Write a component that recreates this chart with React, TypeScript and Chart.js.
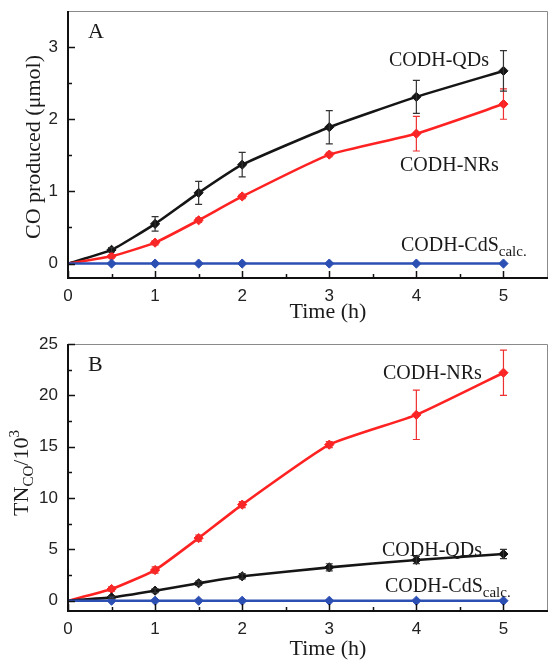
import React, { useEffect, useRef } from "react";
import { Chart, registerables } from "chart.js";

Chart.register(...registerables);

// ---------- data ----------
const times = [0, 0.5, 1, 1.5, 2, 3, 4, 5];

// Panel A: CO produced (µmol)
const coQDs = [0, 0.19, 0.55, 0.98, 1.37, 1.89, 2.31, 2.67];
const coQDsErr = [0, 0.03, 0.1, 0.16, 0.17, 0.23, 0.23, 0.28];
const coNRs = [0, 0.1, 0.29, 0.6, 0.93, 1.51, 1.8, 2.21];
const coNRsErr = [0, 0.02, 0.03, 0.03, 0.03, 0.03, 0.24, 0.21];
const coCdS = [0, 0, 0, 0, 0, 0, 0, 0];

// Panel B: TN_CO / 10^3
const tnNRs = [0, 1.14, 2.99, 6.1, 9.36, 15.2, 18.1, 22.2];
const tnNRsErr = [0, 0.2, 0.3, 0.3, 0.3, 0.3, 2.4, 2.2];
const tnQDs = [0, 0.33, 0.98, 1.7, 2.38, 3.25, 3.97, 4.55];
const tnQDsErr = [0, 0.1, 0.2, 0.2, 0.25, 0.35, 0.35, 0.45];
const tnCdS = [0, 0, 0, 0, 0, 0, 0, 0];

// ticks
const xMajor = [0, 1, 2, 3, 4, 5];
const xMinor = [0.5, 1.5, 2.5, 3.5, 4.5];
const coMajor = [0, 1, 2, 3];
const coMinor = [0.5, 1.5, 2.5];
const tnMajor = [0, 5, 10, 15, 20, 25];
const tnMinor = [2.5, 7.5, 12.5, 17.5, 22.5];

// ---------- styles ----------
const BLACK = "#151515";
const RED = "#ff2222";
const BLUE = "#2c4fb3";
const SERIF = '"Liberation Serif", "Times New Roman", serif';
const SANS = '"Liberation Sans", Arial, sans-serif';

type Part = { text: string; size: number; dy?: number };
type Label = { x: number; y: number; parts: Part[]; align?: "left" | "center" };

function partsWidth(ctx: CanvasRenderingContext2D, parts: Part[]) {
  let w = 0;
  for (const p of parts) {
    ctx.font = `${p.size}px ${SERIF}`;
    w += ctx.measureText(p.text).width;
  }
  return w;
}

function drawParts(ctx: CanvasRenderingContext2D, parts: Part[], x: number, y: number) {
  let cx = x;
  for (const p of parts) {
    ctx.font = `${p.size}px ${SERIF}`;
    ctx.fillText(p.text, cx, y + (p.dy || 0));
    cx += ctx.measureText(p.text).width;
  }
}

function pts(ys: number[]) {
  return times.map((t, i) => ({ x: t, y: ys[i] }));
}

function ds(label: string, ys: number[], errs: number[] | null, color: string, errColor: string) {
  return {
    label,
    data: pts(ys),
    errs,
    errColor,
    borderColor: color,
    backgroundColor: color,
    borderWidth: 2.6,
    pointStyle: "rectRot",
    pointRadius: times.map((t) => (t === 0 ? 0 : 4.6)),
    pointHoverRadius: 0,
    pointBorderWidth: 1,
    tension: 0.15,
  };
}

type Panel = {
  height: number;
  padTop: number;
  xHeight: number;
  yMin: number;
  yMax: number;
  yMajor: number[];
  yMinor: number[];
  datasets: any[];
  labels: Label[];
  yTitle: Part[];
  yTitlePos: [number, number];
  xTitlePos: [number, number];
};

function makeChart(canvas: HTMLCanvasElement, p: Panel) {
  const decor = {
    id: "decor",
    afterDatasetsDraw(chart: any) {
      const ctx = chart.ctx as CanvasRenderingContext2D;
      const xs = chart.scales.x;
      const ys = chart.scales.y;
      // error bars
      chart.data.datasets.forEach((d: any) => {
        if (!d.errs) return;
        ctx.save();
        ctx.strokeStyle = d.errColor;
        ctx.lineWidth = 1.2;
        d.data.forEach((pt: any, i: number) => {
          const e = d.errs[i];
          if (!e) return;
          const px = xs.getPixelForValue(pt.x);
          const y1 = ys.getPixelForValue(pt.y + e);
          const y2 = ys.getPixelForValue(pt.y - e);
          ctx.beginPath();
          ctx.moveTo(px, y1);
          ctx.lineTo(px, y2);
          ctx.moveTo(px - 3.5, y1);
          ctx.lineTo(px + 3.5, y1);
          ctx.moveTo(px - 3.5, y2);
          ctx.lineTo(px + 3.5, y2);
          ctx.stroke();
        });
        ctx.restore();
      });
    },
    afterDraw(chart: any) {
      const ctx = chart.ctx as CanvasRenderingContext2D;
      const { left, right, top, bottom } = chart.chartArea;
      const xs = chart.scales.x;
      const ys = chart.scales.y;
      ctx.save();
      // top / right frame (thin, grey)
      ctx.strokeStyle = "#8a8a8a";
      ctx.lineWidth = 1;
      ctx.beginPath();
      ctx.moveTo(left, top + 0.5);
      ctx.lineTo(right + 0.5, top + 0.5);
      ctx.lineTo(right + 0.5, bottom);
      ctx.stroke();
      // left / bottom axes (thick, black)
      ctx.strokeStyle = "#111";
      ctx.lineWidth = 2;
      ctx.beginPath();
      ctx.moveTo(left, top);
      ctx.lineTo(left, bottom);
      ctx.lineTo(right + 1, bottom);
      ctx.stroke();
      // inward ticks
      ctx.lineWidth = 1.5;
      ctx.beginPath();
      xMajor.forEach((v) => {
        const px = Math.round(xs.getPixelForValue(v)) + 0.5;
        ctx.moveTo(px, bottom);
        ctx.lineTo(px, bottom - 7);
      });
      xMinor.forEach((v) => {
        const px = Math.round(xs.getPixelForValue(v)) + 0.5;
        ctx.moveTo(px, bottom);
        ctx.lineTo(px, bottom - 4);
      });
      p.yMajor.forEach((v) => {
        const py = Math.round(ys.getPixelForValue(v)) + 0.5;
        ctx.moveTo(left, py);
        ctx.lineTo(left + 7, py);
      });
      p.yMinor.forEach((v) => {
        const py = Math.round(ys.getPixelForValue(v)) + 0.5;
        ctx.moveTo(left, py);
        ctx.lineTo(left + 4, py);
      });
      ctx.stroke();

      // texts
      ctx.fillStyle = "#1a1a1a";
      ctx.textBaseline = "alphabetic";
      ctx.textAlign = "left";
      p.labels.forEach((l) => {
        let x = l.x;
        if (l.align === "center") x -= partsWidth(ctx, l.parts) / 2;
        drawParts(ctx, l.parts, x, l.y);
      });
      // x title
      const xt: Part[] = [{ text: "Time (h)", size: 22 }];
      drawParts(ctx, xt, p.xTitlePos[0] - partsWidth(ctx, xt) / 2, p.xTitlePos[1]);
      // y title (rotated)
      ctx.translate(p.yTitlePos[0], p.yTitlePos[1]);
      ctx.rotate(-Math.PI / 2);
      drawParts(ctx, p.yTitle, -partsWidth(ctx, p.yTitle) / 2, 7);
      ctx.restore();
    },
  };

  return new Chart(canvas, {
    type: "line",
    data: { datasets: p.datasets },
    options: {
      responsive: false,
      animation: false,
      events: [],
      layout: { padding: { top: p.padTop, right: 11, left: 0, bottom: 0 } },
      plugins: { legend: { display: false }, tooltip: { enabled: false } },
      scales: {
        x: {
          type: "linear",
          min: 0,
          max: 5.5,
          grid: { display: false, drawTicks: false },
          border: { display: false },
          afterBuildTicks: (s: any) => {
            s.ticks = xMajor.map((v) => ({ value: v }));
          },
          ticks: {
            padding: 8,
            color: "#222",
            font: { family: SANS, size: 17 },
            callback: (v: any) => String(v),
            maxRotation: 0,
            autoSkip: false,
          },
          afterFit: (s: any) => {
            s.height = p.xHeight;
            s.paddingLeft = 0;
            s.paddingRight = 0;
          },
        },
        y: {
          type: "linear",
          min: p.yMin,
          max: p.yMax,
          grid: { display: false, drawTicks: false },
          border: { display: false },
          afterBuildTicks: (s: any) => {
            s.ticks = p.yMajor.map((v) => ({ value: v }));
          },
          ticks: {
            padding: 10,
            color: "#222",
            font: { family: SANS, size: 17 },
            callback: (v: any) => String(v),
            autoSkip: false,
          },
          afterFit: (s: any) => {
            s.width = 68;
            s.paddingTop = 0;
            s.paddingBottom = 0;
          },
        },
      },
    },
    plugins: [decor],
  } as any);
}

const panelA: Panel = {
  height: 336,
  padTop: 11,
  xHeight: 58,
  yMin: -0.2,
  yMax: 3.5,
  yMajor: coMajor,
  yMinor: coMinor,
  datasets: [
    ds("CODH-CdS calc.", coCdS, null, BLUE, BLUE),
    ds("CODH-NRs", coNRs, coNRsErr, RED, "#ee3030"),
    ds("CODH-QDs", coQDs, coQDsErr, BLACK, "#333"),
  ],
  labels: [
    { x: 88, y: 38, parts: [{ text: "A", size: 22 }] },
    { x: 389, y: 66, parts: [{ text: "CODH-QDs", size: 20 }] },
    { x: 400, y: 171, parts: [{ text: "CODH-NRs", size: 20 }] },
    {
      x: 401,
      y: 251,
      parts: [
        { text: "CODH-CdS", size: 20 },
        { text: "calc.", size: 15, dy: 5 },
      ],
    },
  ],
  yTitle: [{ text: "CO produced (\u03bcmol)", size: 22 }],
  yTitlePos: [33, 147],
  xTitlePos: [328, 318],
};

const panelB: Panel = {
  height: 336,
  padTop: 8,
  xHeight: 61,
  yMin: -1,
  yMax: 25,
  yMajor: tnMajor,
  yMinor: tnMinor,
  datasets: [
    ds("CODH-CdS calc.", tnCdS, null, BLUE, BLUE),
    ds("CODH-QDs", tnQDs, tnQDsErr, BLACK, "#333"),
    ds("CODH-NRs", tnNRs, tnNRsErr, RED, "#ee3030"),
  ],
  labels: [
    { x: 88, y: 35, parts: [{ text: "B", size: 22 }] },
    { x: 383, y: 43, parts: [{ text: "CODH-NRs", size: 20 }] },
    { x: 382, y: 220, parts: [{ text: "CODH-QDs", size: 20 }] },
    {
      x: 385,
      y: 256,
      parts: [
        { text: "CODH-CdS", size: 20 },
        { text: "calc.", size: 15, dy: 5 },
      ],
    },
  ],
  yTitle: [
    { text: "TN", size: 22 },
    { text: "CO", size: 15, dy: 5 },
    { text: "/10", size: 22 },
    { text: "3", size: 15, dy: -9 },
  ],
  yTitlePos: [21, 137],
  xTitlePos: [328, 319],
};

function PanelChart({ panel, top }: { panel: Panel; top: number }) {
  const ref = useRef<HTMLCanvasElement>(null);
  useEffect(() => {
    if (!ref.current) return;
    const c = makeChart(ref.current, panel);
    return () => c.destroy();
  }, [panel]);
  return (
    <canvas
      ref={ref}
      width={558}
      height={panel.height}
      style={{ position: "absolute", left: 0, top, width: 558, height: panel.height, display: "block" }}
    />
  );
}

export default function App() {
  return (
    <div style={{ position: "absolute", left: 0, top: 0, width: 558, height: 672, background: "#fff" }}>
      <PanelChart panel={panelA} top={0} />
      <PanelChart panel={panelB} top={336} />
    </div>
  );
}
